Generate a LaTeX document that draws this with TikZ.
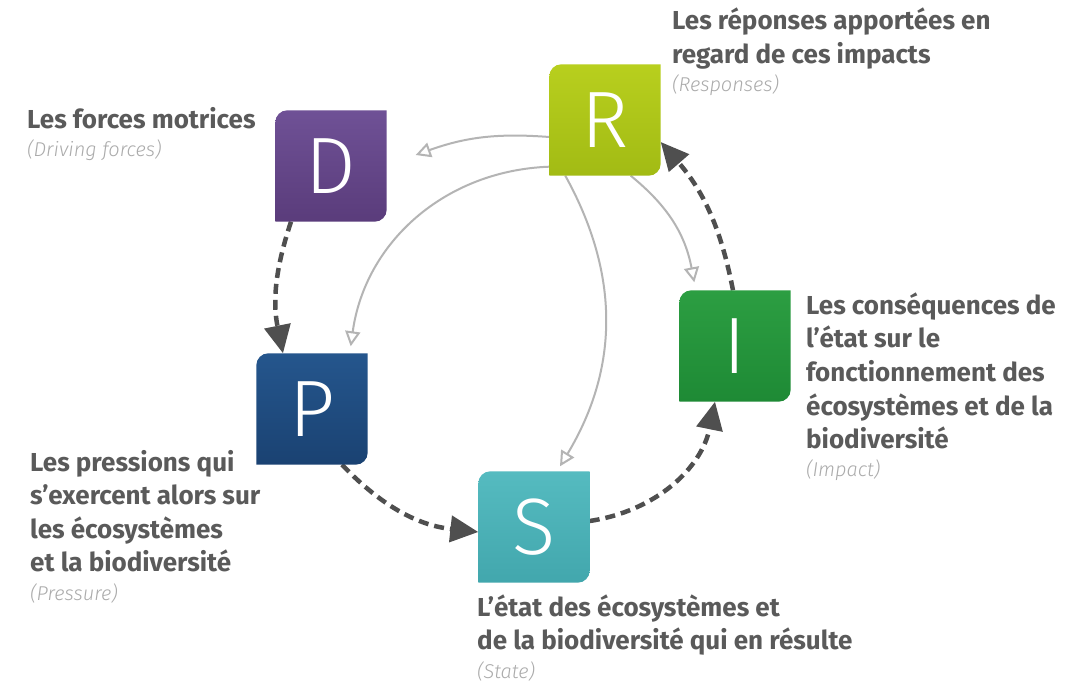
\documentclass[tikz,border=0pt]{standalone}
\usepackage{fontspec}
\setmainfont{Fira Sans}
\newfontfamily\thinfont{Fira Sans Light}
\usetikzlibrary{arrows.meta,backgrounds}

\definecolor{txtgray}{HTML}{5A5A5A}
\definecolor{italgray}{HTML}{ABABAB}
\definecolor{flowgray}{HTML}{4F4F4F}
\definecolor{linegray}{HTML}{B4B4B4}
\definecolor{dtop}{HTML}{6F5196}\definecolor{dbot}{HTML}{5A3C7B}
\definecolor{rtop}{HTML}{B8CF1E}\definecolor{rbot}{HTML}{A2BB14}
\definecolor{itop}{HTML}{2C9E42}\definecolor{ibot}{HTML}{1E8A35}
\definecolor{ptop}{HTML}{25568D}\definecolor{pbot}{HTML}{1A4272}
\definecolor{stop}{HTML}{55BBC0}\definecolor{sbot}{HTML}{42A7AD}

% tile with two rounded corners (top left, bottom right)
\newcommand\tilefill[3]{%
  \shade[top color=#2,bottom color=#3] (#1.south west) [rounded corners=12pt] -- (#1.north west)
    [sharp corners] -- (#1.north east) [rounded corners=12pt] -- (#1.south east) [sharp corners] -- cycle;}
\newcommand\eng[1]{\\[-5pt]{\thinfont\mdseries\itshape\color{italgray}\fontsize{20}{30}\selectfont #1}}

\begin{document}
\begin{tikzpicture}[x=1pt,y=1pt,line join=round,
  tile/.style={minimum size=111pt,inner sep=0pt,text=white,font=\thinfont\fontsize{80}{80}\selectfont},
  lbl/.style={anchor=base west,align=left,inner sep=0pt,text=txtgray,font=\bfseries\fontsize{26}{33.5}\selectfont},
  flow/.style={draw=flowgray,line width=4.5pt,dash pattern=on 10pt off 6pt,-{Triangle[length=28pt,width=26pt]}},
  back/.style={draw=linegray,line width=2pt,-{Triangle[open,length=15pt,width=15pt,fill=white]}}]
\useasboundingbox (0,0) rectangle (1085,689);

% the five tiles
\node[tile] (D) at (331,523) {D};
\node[tile] (R) at (605,569) {R};
\node[tile] (I) at (735,343) {I};
\node[tile] (P) at (312,280) {P};
\node[tile] (S) at (534,162) {S};

% labels (anchored on their last line)
\node[lbl] (Dtxt) at (27,532) {Les forces motrices\eng{(Driving forces)}};
\node[lbl] (Rtxt) at (672,597) {Les réponses apportées en\\regard de ces impacts\eng{(Responses)}};
\node[lbl] (Itxt) at (806,212) {Les conséquences de\\l'état sur le\\fonctionnement des\\écosystèmes et de la\\biodiversité\eng{(Impact)}};
\node[lbl] (Ptxt) at (30,89) {Les pressions qui\\s'exercent alors sur\\les écosystèmes\\et la biodiversité\eng{(Pressure)}};
\node[lbl] (Stxt) at (477,11) {L'état des écosystèmes et\\de la biodiversité qui en résulte\eng{(State)}};

\begin{scope}[on background layer]
  \fill[white] (0,0) rectangle (1085,689);
  % responses back to the other steps
  \draw[back] ([yshift=-17pt]R.west) to[bend right=12] ([xshift=29pt,yshift=11pt]D.east);
  \draw[back] ([yshift=9pt]R.south west) to[bend right=40] ([xshift=-17pt,yshift=7pt]P.north east);
  \draw[back] ([xshift=16pt]R.south west) to[bend left=30] ([xshift=26pt,yshift=5pt]S.north);
  \draw[back] ([xshift=-30pt]R.south east) to[bend left=20] ([xshift=15pt,yshift=8pt]I.north west);
  % main cycle
  \draw[flow] ([xshift=-40pt]D.south) to[bend right=15] ([xshift=-29pt]P.north);
  \draw[flow] ([xshift=30pt]P.south) to[bend right=20] ([yshift=-5pt]S.west);
  \draw[flow] ([yshift=6pt]S.east) to[bend right=35] ([xshift=-20pt]I.south);
  \draw[flow] ([xshift=-2pt]I.north) to[bend right=15] ([yshift=-22pt]R.east);
  \tilefill{D}{dtop}{dbot}
  \tilefill{R}{rtop}{rbot}
  \tilefill{I}{itop}{ibot}
  \tilefill{P}{ptop}{pbot}
  \tilefill{S}{stop}{sbot}
\end{scope}
\end{tikzpicture}
\end{document}
